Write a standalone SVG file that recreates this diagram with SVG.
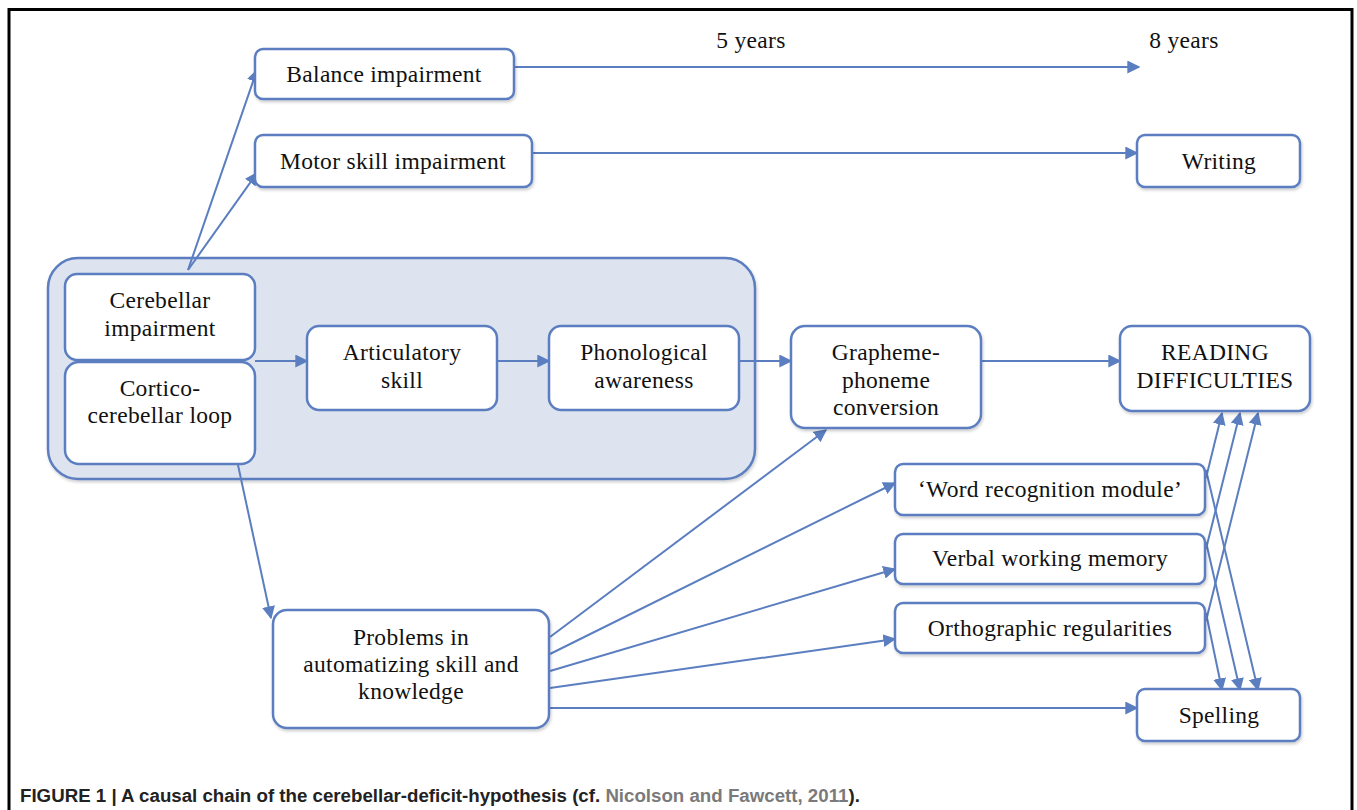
<svg xmlns="http://www.w3.org/2000/svg" width="1357" height="810" viewBox="0 0 1357 810">
<defs>
<style>
.box{fill:#ffffff;stroke:#5b7ec0;stroke-width:2.5}
.cont{fill:#dde3ef;stroke:#5b7ec0;stroke-width:2.5}
.con{stroke:#5b7ec0;stroke-width:2;fill:none;marker-end:url(#ah)}
.t{font-family:"Liberation Serif","Times New Roman",serif;font-size:23.5px;letter-spacing:0.3px;fill:#111;text-anchor:middle}
.cap{font-family:"Liberation Sans",Arial,sans-serif;font-size:18.7px;font-weight:bold;fill:#222}
</style>
<marker id="ah" viewBox="0 0 10 10" refX="9" refY="5" markerWidth="6.5" markerHeight="6.5" orient="auto" markerUnits="strokeWidth">
<path d="M0,0 L10,5 L0,10 z" fill="#5b7ec0"/>
</marker>
<filter id="sh" x="-10%" y="-10%" width="130%" height="140%">
<feDropShadow dx="1" dy="2" stdDeviation="1.5" flood-color="#000" flood-opacity="0.2"/>
</filter>
</defs>
<rect width="1357" height="810" fill="#ffffff"/>
<path d="M9,810 V9.5 H1352 V810" fill="none" stroke="#000" stroke-width="3"/>

<g id="container"><rect class="cont" x="48" y="258" width="707" height="221" rx="30" filter="url(#sh)"/></g>

<g id="connectors">
<line class="con" x1="188" y1="270" x2="257" y2="70"/>
<line class="con" x1="188" y1="270" x2="257" y2="173"/>
<line class="con" x1="514" y1="67" x2="1139" y2="67"/>
<line class="con" x1="532" y1="153" x2="1137" y2="153"/>
<line class="con" x1="255" y1="361" x2="307" y2="361"/>
<line class="con" x1="497" y1="361" x2="549" y2="361"/>
<line class="con" x1="739" y1="361" x2="791" y2="361"/>
<line class="con" x1="981" y1="361" x2="1120" y2="361"/>
<line class="con" x1="238" y1="465" x2="271" y2="618"/>
<line class="con" x1="550" y1="637" x2="826" y2="430"/>
<line class="con" x1="550" y1="654" x2="895" y2="483"/>
<line class="con" x1="550" y1="671" x2="895" y2="569"/>
<line class="con" x1="550" y1="688" x2="895" y2="639"/>
<line class="con" x1="550" y1="708" x2="1137" y2="708"/>
<line class="con" x1="1206" y1="478" x2="1222" y2="413"/>
<line class="con" x1="1206" y1="549" x2="1240" y2="413"/>
<line class="con" x1="1206" y1="621" x2="1258" y2="413"/>
<line class="con" x1="1206" y1="470" x2="1258" y2="690"/>
<line class="con" x1="1206" y1="542" x2="1240" y2="690"/>
<line class="con" x1="1206" y1="613" x2="1222" y2="690"/>
</g>

<g id="balance"><rect class="box" x="255" y="49" width="259" height="50" rx="8" filter="url(#sh)"/><text class="t" x="384" y="82">Balance impairment</text></g>
<g id="motor"><rect class="box" x="255" y="135" width="277" height="52" rx="8" filter="url(#sh)"/><text class="t" x="393" y="169">Motor skill impairment</text></g>
<g id="writing"><rect class="box" x="1137" y="135" width="163" height="52" rx="8" filter="url(#sh)"/><text class="t" x="1219" y="169">Writing</text></g>
<g id="age5"><text class="t" x="751" y="48">5 years</text></g>
<g id="age8"><text class="t" x="1184" y="48">8 years</text></g>

<g id="cerebellar"><rect class="box" x="65" y="274" width="190" height="86" rx="12"/><text class="t" x="160" y="308">Cerebellar</text><text class="t" x="160" y="336">impairment</text></g>
<g id="cortico"><rect class="box" x="65" y="362" width="190" height="102" rx="14"/><text class="t" x="160" y="396">Cortico-</text><text class="t" x="160" y="423">cerebellar loop</text></g>
<g id="articulatory"><rect class="box" x="307" y="326" width="190" height="84" rx="12"/><text class="t" x="402" y="360">Articulatory</text><text class="t" x="402" y="388">skill</text></g>
<g id="phonological"><rect class="box" x="549" y="326" width="190" height="84" rx="12"/><text class="t" x="644" y="360">Phonological</text><text class="t" x="644" y="388">awareness</text></g>
<g id="grapheme"><rect class="box" x="791" y="326" width="190" height="102" rx="14" filter="url(#sh)"/><text class="t" x="886" y="360">Grapheme-</text><text class="t" x="886" y="388">phoneme</text><text class="t" x="886" y="415">conversion</text></g>
<g id="reading"><rect class="box" x="1120" y="326" width="190" height="85" rx="12" filter="url(#sh)"/><text class="t" x="1215" y="360">READING</text><text class="t" x="1215" y="388">DIFFICULTIES</text></g>
<g id="wordrec"><rect class="box" x="895" y="464" width="310" height="51" rx="8" filter="url(#sh)"/><text class="t" x="1050" y="497">‘Word recognition module’</text></g>
<g id="verbal"><rect class="box" x="895" y="534" width="310" height="50" rx="8" filter="url(#sh)"/><text class="t" x="1050" y="566">Verbal working memory</text></g>
<g id="ortho"><rect class="box" x="895" y="603" width="310" height="50" rx="8" filter="url(#sh)"/><text class="t" x="1050" y="636">Orthographic regularities</text></g>
<g id="problems"><rect class="box" x="273" y="610" width="276" height="118" rx="14" filter="url(#sh)"/><text class="t" x="411" y="645">Problems in</text><text class="t" x="411" y="672">automatizing skill and</text><text class="t" x="411" y="699">knowledge</text></g>
<g id="spelling"><rect class="box" x="1137" y="689" width="163" height="52" rx="8" filter="url(#sh)"/><text class="t" x="1219" y="723">Spelling</text></g>

<g id="caption"><text class="cap" x="20" y="802">FIGURE 1 | A causal chain of the cerebellar-deficit-hypothesis (cf. <tspan fill="#7a7a7a">Nicolson and Fawcett, 2011</tspan>).</text></g>
</svg>
